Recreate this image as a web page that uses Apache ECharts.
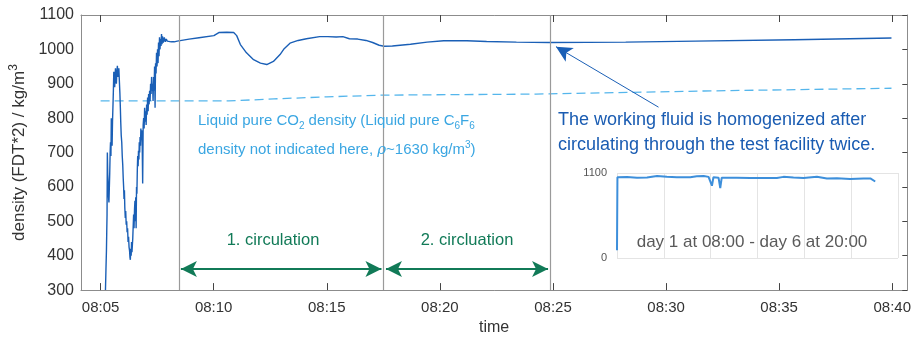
<!DOCTYPE html>
<html>
<head>
<meta charset="utf-8">
<title>Working fluid density</title>
<script src="https://cdn.jsdelivr.net/npm/echarts@6/dist/echarts.min.js"></script>
<style>
  html, body { margin: 0; padding: 0; background: #fff; }
  #chart { width: 914px; height: 341px; }
</style>
</head>
<body>
<div id="chart"></div>
<script>
// Measured density (seconds after 08:00:00, kg/m^3)
const mainTime = [
  312.9, 314.2, 315.5, 316.3, 317.1, 317.9, 318.9, 320.0, 321.1, 322.1,
  323.2, 324.2, 325.3, 326.3, 327.4, 328.4, 329.5, 330.5, 331.6, 332.9,
  333.9, 335.0, 336.3, 337.4, 338.4, 339.5, 340.8, 341.8, 343.2, 344.5,
  345.8, 347.1, 348.4, 349.7, 351.1, 352.4, 353.4, 354.7, 356.1, 357.4,
  358.7, 360.0, 361.1, 362.1, 363.2, 364.2, 365.5, 366.6, 367.9, 369.2,
  370.3, 371.6, 372.9, 374.2, 375.5, 376.8, 377.9, 378.9, 380.0, 381.1,
  382.1, 383.2, 384.2, 385.3, 386.6, 387.6, 388.7, 390.0, 391.1, 392.1,
  393.2, 394.2, 395.3, 396.3, 397.4, 398.4, 399.5, 400.5, 401.6, 402.6,
  403.7, 404.7, 405.8, 406.8, 407.9, 408.9, 410.3, 411.6, 412.9, 414.2,
  415.5, 416.8, 418.2, 419.5, 420.8, 422.1, 423.4, 424.7, 426.1, 427.4,
  428.7, 430.0, 431.3, 432.6, 433.9, 435.3, 436.6, 437.9, 439.2, 440.5,
  441.8, 443.2, 444.5, 445.8, 447.1, 448.4, 449.7, 451.1, 452.4, 453.7,
  455.0, 456.3, 457.6, 458.9, 460.3, 461.6, 462.9, 464.2, 466.3, 469.0,
  471.6, 474.2, 476.8, 482.1, 487.4, 495.3, 503.2, 508.4,
  534.7, 561, 600.5, 605.8, 613.7, 618, 634.7, 653, 661, 670.8,
  687, 705.8, 724, 740.8, 758.4, 776, 787, 802.4, 824, 846,
  881, 903, 925, 942.6, 960, 982, 1004, 1021.6, 1039, 1052,
  1074, 1122, 1166, 1210, 1271.6, 1324, 1403, 1491, 1693, 1877,
  2140, 2398
];
const mainDensity = [
  300, 360, 415, 470, 520, 700, 640, 610, 570, 555,
  600, 640, 700, 730, 690, 800, 760, 720, 790, 840,
  880, 935, 900, 890, 925, 945, 915, 900, 935, 952,
  920, 935, 945, 910, 875, 830, 790, 750, 730, 690,
  665, 625, 600, 565, 590, 540, 510, 530, 490, 500,
  468, 480, 440, 455, 425, 415, 395, 388, 420, 400,
  440, 410, 405, 450, 490, 520, 480, 535, 560, 500,
  570, 480, 600, 580, 650, 690, 660, 705, 680, 730,
  700, 745, 720, 770, 740, 765, 730, 610, 780, 800,
  770, 830, 790, 820, 780, 840, 810, 860, 820, 870,
  840, 880, 850, 900, 870, 920, 880, 900, 850, 920,
  880, 950, 830, 960, 930, 990, 950, 1000, 960, 1020,
  980, 1035, 1000, 1030, 1010, 1045, 1015, 1038, 1020, 1035,
  1022, 1030, 1024, 1028, 1022, 1022, 1024, 1026,
  1030, 1034, 1040, 1045, 1049, 1049, 1050, 1049, 1040, 1014,
  990, 970, 960, 956, 965, 985, 1002, 1018, 1026, 1031,
  1037, 1037, 1036, 1037, 1031, 1030, 1026, 1020, 1012, 1009,
  1010, 1015, 1021, 1025, 1025, 1023, 1021, 1020, 1021, 1024,
  1028, 1033
];

// Liquid pure CO2 reference density
const co2Time = [300, 640, 760, 900, 1050, 1455, 1900, 2398];
const co2Density = [850, 850, 856, 862, 867, 870, 879, 887];

// Circulation boundaries (seconds after 08:00:00)
const circulationMarks = [508, 1050, 1493];
const circulationArrows = [[513, 1045], [1057, 1487]];
const arrowLevel = 361;

// Long-term record: hours since day 1 08:00, density
const longHours = [0, 0.2, 4.7, 9.4, 14.1, 18.8, 23.4, 28.1, 34.4, 37.5,
  40.7, 43.0, 44.6, 45.3, 46.1, 47.7, 48.5, 49.2, 50.0, 56.3,
  62.6, 68.8, 75.1, 78.2, 82.9, 87.6, 93.9, 98.6, 103.3, 109.5,
  115.8, 119.0, 121.3];
const longDensity = [100, 1045, 1048, 1040, 1043, 1062, 1050, 1045, 1045, 1058,
  1062, 1050, 935, 1045, 1050, 1040, 905, 1040, 1035, 1040,
  1036, 1034, 1036, 1050, 1042, 1036, 1052, 1028, 1032, 1022,
  1030, 1030, 990];

// Axis ticks
const timeTicks = [300, 600, 900, 1200, 1500, 1800, 2100, 2400];

const FONT = "'Liberation Sans', Arial, Helvetica, sans-serif";
const BOX = '#8c8c8c';
const pair = (xs, ys) => xs.map((x, i) => [x, ys[i]]);
const fmtTime = v => '08:' + String(Math.round(v / 60)).padStart(2, '0');
const plain = v => String(v);

const chart = echarts.init(document.getElementById('chart'), null, { renderer: 'canvas' });

const option = {
  animation: false,
  backgroundColor: '#fff',
  textStyle: { fontFamily: FONT },
  grid: [
    { left: 81, top: 15, right: 0, bottom: 48 },
    { left: 617, top: 173, width: 281, height: 85 }
  ],
  xAxis: [
    {
      gridIndex: 0, type: 'value', min: 248, max: 2440, position: 'bottom',
      name: 'time', nameLocation: 'middle', nameGap: 28,
      nameTextStyle: { fontSize: 16, color: '#333', fontFamily: FONT },
      axisLine: { show: true, onZero: false, lineStyle: { color: BOX, width: 1 } },
      axisTick: { show: true, inside: true, length: 7, customValues: timeTicks, lineStyle: { color: '#444' } },
      axisLabel: { customValues: timeTicks, formatter: fmtTime, fontSize: 15, color: '#333', margin: 10, fontFamily: FONT },
      splitLine: { show: false }
    },
    {
      gridIndex: 0, type: 'value', min: 248, max: 2440, position: 'top',
      axisLine: { show: true, onZero: false, lineStyle: { color: BOX, width: 1 } },
      axisTick: { show: true, inside: true, length: 7, customValues: timeTicks, lineStyle: { color: '#444' } },
      axisLabel: { show: false },
      splitLine: { show: false }
    },
    {
      gridIndex: 1, type: 'value', min: 0, max: 132, interval: 22,
      axisLine: { show: false }, axisTick: { show: false }, axisLabel: { show: false },
      splitLine: { show: true, lineStyle: { color: '#e4e4e4', width: 1 } }
    }
  ],
  yAxis: [
    {
      gridIndex: 0, type: 'value', min: 300, max: 1100, interval: 100, position: 'left',
      name: '{n|density (FDT*2) / kg/m}{sup|3}', nameLocation: 'middle', nameGap: 48, nameRotate: 90,
      nameTextStyle: {
        fontFamily: FONT, color: '#333',
        rich: {
          n: { fontSize: 17, lineHeight: 22, color: '#333', fontFamily: FONT },
          sup: { fontSize: 12, lineHeight: 12, verticalAlign: 'top', color: '#333', fontFamily: FONT }
        }
      },
      axisLine: { show: true, onZero: false, lineStyle: { color: BOX, width: 1 } },
      axisTick: { show: false },
      axisLabel: { formatter: plain, fontSize: 16, color: '#333', margin: 7, fontFamily: FONT },
      splitLine: { show: false }
    },
    {
      gridIndex: 0, type: 'value', min: 300, max: 1100, interval: 100, position: 'right',
      axisLine: { show: true, onZero: false, lineStyle: { color: BOX, width: 1 } },
      axisTick: { show: true, inside: true, length: 5, lineStyle: { color: '#444' } },
      axisLabel: { show: false },
      splitLine: { show: false }
    },
    {
      gridIndex: 1, type: 'value', min: 0, max: 1100, interval: 1100,
      axisLine: { show: false }, axisTick: { show: false },
      axisLabel: { formatter: plain, fontSize: 11, color: '#555', margin: 10, fontFamily: FONT },
      splitLine: { show: true, lineStyle: { color: '#e4e4e4', width: 1 } }
    }
  ],
  series: [
    {
      name: 'CO2 liquid density', type: 'line', xAxisIndex: 0, yAxisIndex: 0,
      data: pair(co2Time, co2Density), showSymbol: false, smooth: false,
      lineStyle: { color: '#55b6ec', width: 1.3, type: [9, 5] }, z: 2
    },
    {
      name: 'density', type: 'line', xAxisIndex: 0, yAxisIndex: 0,
      data: pair(mainTime, mainDensity), showSymbol: false,
      lineStyle: { color: '#1a5fb6', width: 1.4 }, z: 3
    },
    {
      name: 'annotations', type: 'line', xAxisIndex: 0, yAxisIndex: 0, data: [],
      markLine: {
        silent: true, animation: false, symbol: 'none', label: { show: false },
        lineStyle: { color: '#9a9a9a', width: 1.2, type: 'solid' },
        data: circulationMarks.map(v => ({ xAxis: v }))
      },
      z: 1
    },
    {
      name: 'circulation arrows', type: 'line', xAxisIndex: 0, yAxisIndex: 0, data: [],
      markLine: {
        silent: true, animation: false, symbol: ['arrow', 'arrow'], symbolSize: [12, 16],
        label: { show: false },
        lineStyle: { color: '#117a57', width: 1.8, type: 'solid' },
        data: circulationArrows.map(a => [{ coord: [a[0], arrowLevel] }, { coord: [a[1], arrowLevel] }])
      },
      z: 4
    },
    {
      name: 'pointer', type: 'line', xAxisIndex: 0, yAxisIndex: 0, data: [],
      markLine: {
        silent: true, animation: false, symbol: ['none', 'arrow'], symbolSize: [12, 16],
        label: { show: false },
        lineStyle: { color: '#1a5fb6', width: 1, type: 'solid' },
        data: [[{ coord: [1780, 832] }, { coord: [1508, 1008] }]]
      },
      z: 4
    },
    {
      name: 'long-term density', type: 'line', xAxisIndex: 2, yAxisIndex: 2,
      data: pair(longHours, longDensity), showSymbol: false,
      lineStyle: { color: '#3d8fdb', width: 2 }, z: 3
    }
  ],
  graphic: [
    {
      type: 'text', x: 198, y: 121, z: 10,
      style: {
        text: '{n|Liquid pure CO}{s|2}{n| density (Liquid pure C}{s|6}{n|F}{s|6}',
        fill: '#3aa6e2', align: 'left', verticalAlign: 'middle',
        rich: {
          n: { fontSize: 15, lineHeight: 20, fontFamily: FONT, fill: '#3aa6e2' },
          s: { fontSize: 10, lineHeight: 10, verticalAlign: 'bottom', fontFamily: FONT, fill: '#3aa6e2' }
        }
      }
    },
    {
      type: 'text', x: 198, y: 150, z: 10,
      style: {
        text: '{n|density not indicated here, }{i|ρ}{n|~1630 kg/m}{p|3}{n|)}',
        fill: '#3aa6e2', align: 'left', verticalAlign: 'middle',
        rich: {
          n: { fontSize: 15, lineHeight: 20, fontFamily: FONT, fill: '#3aa6e2' },
          i: { fontSize: 15, lineHeight: 20, fontStyle: 'italic', fontFamily: "'DejaVu Serif', serif", fill: '#3aa6e2' },
          p: { fontSize: 10, lineHeight: 10, verticalAlign: 'top', fontFamily: FONT, fill: '#3aa6e2' }
        }
      }
    },
    {
      type: 'text', x: 558, y: 120, z: 10,
      style: { text: 'The working fluid is homogenized after', font: '18px ' + FONT, fill: '#1a5cb2', align: 'left', verticalAlign: 'middle' }
    },
    {
      type: 'text', x: 558, y: 145, z: 10,
      style: { text: 'circulating through the test facility twice.', font: '18px ' + FONT, fill: '#1a5cb2', align: 'left', verticalAlign: 'middle' }
    },
    {
      type: 'text', x: 273, y: 240, z: 10,
      style: { text: '1. circulation', font: '16.5px ' + FONT, fill: '#117a57', align: 'center', verticalAlign: 'middle' }
    },
    {
      type: 'text', x: 467, y: 240, z: 10,
      style: { text: '2. circluation', font: '16.5px ' + FONT, fill: '#117a57', align: 'center', verticalAlign: 'middle' }
    },
    {
      type: 'text', x: 752, y: 242, z: 10,
      style: { text: 'day 1 at 08:00 - day 6 at 20:00', font: '17px ' + FONT, fill: '#5a5a5a', align: 'center', verticalAlign: 'middle' }
    }
  ]
};

chart.setOption(option);
</script>
</body>
</html>
